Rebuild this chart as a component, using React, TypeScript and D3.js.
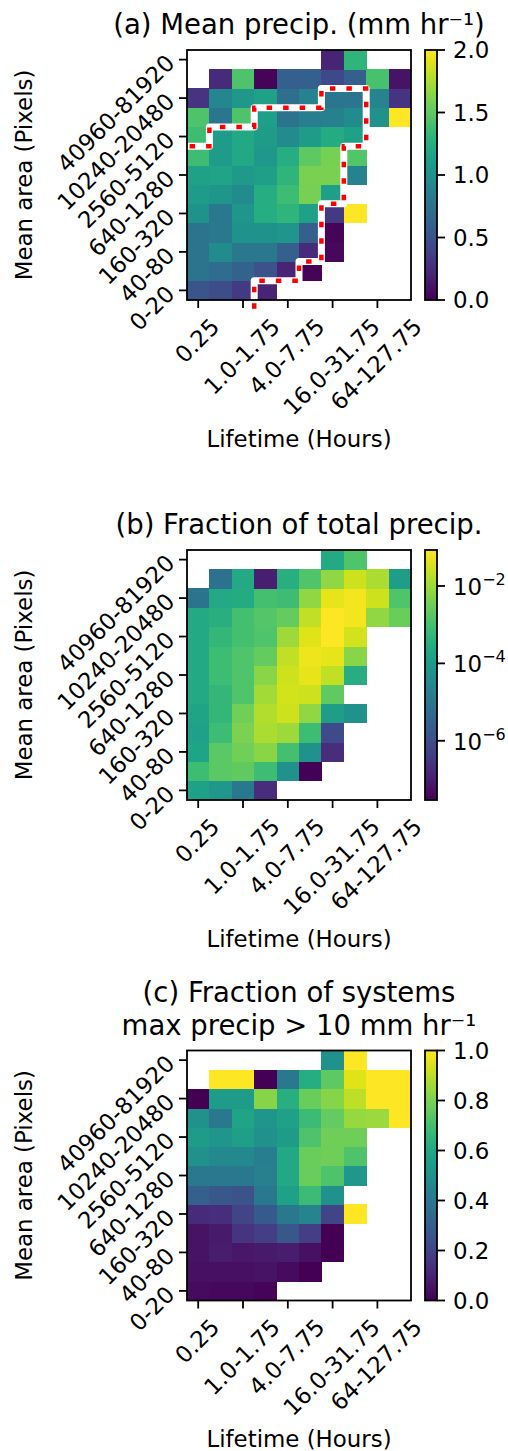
import React from "react";
import * as d3 from "d3";

// bins
const lifetimeBins = ["0.25", "0.5-0.75", "1.0-1.75", "2.0-3.75", "4.0-7.75", "8.0-15.75", "16.0-31.75", "32-63.75", "64-127.75", "128-255.75"];
const areaBins = ["0-20", "20-40", "40-80", "80-160", "160-320", "320-640", "640-1280", "1280-2560", "2560-5120", "5120-10240", "10240-20480", "20480-40960", "40960-81920"];
const xTickLabels = ["0.25", "1.0-1.75", "4.0-7.75", "16.0-31.75", "64-127.75"];
const yTickLabels = ["0-20", "40-80", "160-320", "640-1280", "2560-5120", "10240-20480", "40960-81920"];

const _ = null;

// rows: smallest area first; columns: lifetime bins
const meanPrecip = [
  [0.52, 0.46, 0.34, 0.2, _, _, _, _, _, _],
  [0.76, 0.7, 0.62, 0.5, 0.2, 0.02, _, _, _, _],
  [0.76, 0.96, 0.8, 0.8, 0.6, 0.24, 0.04, _, _, _],
  [0.76, 0.8, 1.02, 1.02, 1.04, 0.6, 0.02, _, _, _],
  [1.02, 0.8, 1.04, 1.24, 1.3, 1.14, 0.34, 2.0, _, _],
  [1.1, 1.04, 0.96, 1.24, 1.38, 1.58, 1.12, _, _, _],
  [1.14, 1.16, 1.08, 1.12, 1.3, 1.6, 1.6, 0.88, _, _],
  [1.38, 1.1, 1.2, 1.06, 1.24, 1.5, 1.58, 1.46, _, _],
  [1.38, 1.1, 1.2, 1.1, 0.96, 1.1, 1.22, 1.14, _, _],
  [1.44, 0.78, 1.44, 1.12, 0.76, 0.84, 0.86, 0.96, 1.0, 2.0],
  [0.3, 0.92, 1.06, 1.14, 0.72, 0.88, 0.78, 0.78, 0.9, 0.3],
  [_, 0.24, 1.44, 0.02, 0.6, 0.6, 0.44, 0.6, 1.42, 0.1],
  [_, _, _, _, _, _, 0.2, 1.3, _, _],
];

const fracTotal = [
  [1.5e-4, 8.3e-5, 1.2e-5, 1.9e-7, _, _, _, _, _, _],
  [7.7e-4, 1.9e-3, 2.2e-3, 7.7e-4, 5.3e-5, 3.2e-8, _, _, _, _],
  [1.7e-4, 1.9e-3, 3.4e-3, 6.1e-3, 1.0e-3, 5.3e-5, 1.9e-7, _, _, _],
  [1.3e-4, 7.7e-4, 4.6e-3, 1.3e-2, 9.5e-3, 7.7e-4, 8.3e-7, _, _, _],
  [1.7e-4, 5.7e-4, 3.4e-3, 1.5e-2, 2.7e-2, 7.1e-3, 1.1e-4, 5.3e-5, _, _],
  [2.3e-4, 5.7e-4, 1.4e-3, 1.1e-2, 3.1e-2, 2.7e-2, 2.2e-3, _, _, _],
  [2.3e-4, 7.7e-4, 1.4e-3, 6.1e-3, 2.7e-2, 4.9e-2, 2.0e-2, 3.2e-4, _, _],
  [2.3e-4, 7.7e-4, 1.4e-3, 2.5e-3, 2.0e-2, 5.7e-2, 4.9e-2, 6.1e-3, _, _],
  [2.3e-4, 5.7e-4, 1.0e-3, 1.4e-3, 9.5e-3, 4.2e-2, 8.5e-2, 3.1e-2, _, _],
  [2.3e-4, 3.6e-4, 1.0e-3, 1.6e-3, 2.5e-3, 2.0e-2, 8.5e-2, 6.6e-2, 7.1e-3, 2.9e-3],
  [9.0e-6, 2.3e-4, 2.6e-4, 1.0e-3, 8.5e-4, 7.1e-3, 4.9e-2, 6.6e-2, 2.7e-2, 1.4e-3],
  [_, 7.8e-6, 2.3e-4, 1.0e-7, 3.6e-4, 1.4e-3, 7.1e-3, 2.7e-2, 1.3e-2, 1.1e-4],
  [_, _, _, _, _, _, 2.3e-4, 1.4e-3, _, _],
];

const fracHeavy = [
  [0.03, 0.02, 0.02, 0.01, _, _, _, _, _, _],
  [0.04, 0.04, 0.04, 0.05, 0.03, 0.0, _, _, _, _],
  [0.05, 0.08, 0.06, 0.07, 0.08, 0.04, 0.0, _, _, _],
  [0.05, 0.07, 0.15, 0.18, 0.27, 0.18, 0.0, _, _, _],
  [0.12, 0.13, 0.2, 0.28, 0.4, 0.45, 0.2, 1.0, _, _],
  [0.3, 0.27, 0.25, 0.4, 0.57, 0.68, 0.5, _, _, _],
  [0.4, 0.4, 0.4, 0.43, 0.6, 0.77, 0.72, 0.53, _, _],
  [0.5, 0.47, 0.47, 0.42, 0.6, 0.77, 0.78, 0.72, _, _],
  [0.55, 0.52, 0.56, 0.5, 0.55, 0.72, 0.78, 0.78, _, _],
  [0.5, 0.4, 0.58, 0.52, 0.57, 0.68, 0.76, 0.84, 0.85, 1.0],
  [0.0, 0.55, 0.55, 0.82, 0.63, 0.77, 0.82, 0.9, 1.0, 1.0],
  [_, 1.0, 1.0, 0.0, 0.4, 0.62, 0.75, 0.95, 1.0, 1.0],
  [_, _, _, _, _, _, 0.5, 1.0, _, _],
];

// contour in bin-edge units (lifetime edge, area edge)
const contourEdge = [[3, -0.45], [3, 1], [5, 1], [5, 2], [6, 2], [6, 5], [7, 5], [7, 8], [8, 8], [8, 11], [6, 11], [6, 10], [3, 10], [3, 9], [1, 9], [1, 8], [-0.05, 8]];

const linTicksA = [0, 0.5, 1.0, 1.5, 2.0];
const logTicksB = [1e-6, 1e-4, 1e-2];
const linTicksC = [0, 0.2, 0.4, 0.6, 0.8, 1.0];

const FS = 22.9;
const TFS = 27.5;
const FONT = "DejaVu Sans";
const axL = 187, axR = 411, cbL = 425, cbR = 437, axH = 250;

const textW = (s: string) => d3.sum(Array.from(s), (ch) => (ch === "." ? 0.318 : ch === "-" ? 0.361 : 0.636)) * FS;

function Panel({ id, top, values, color, cbScale, cbTicks, cbFmt, title, contour }: any) {
  const bottom = top + axH;
  const x = d3.scaleBand().domain(lifetimeBins).range([axL, axR]);
  const y = d3.scaleBand().domain(areaBins).range([bottom, top]);
  const xe = d3.scaleLinear().domain([0, lifetimeBins.length]).range([axL, axR]);
  const ye = d3.scaleLinear().domain([0, areaBins.length]).range([bottom, top]);
  const cells: any[] = [];
  values.forEach((row: any[], r: number) =>
    row.forEach((v, c) => {
      if (v !== null) cells.push({ r, c, v });
    })
  );
  const cy = cbScale.copy().range([bottom, top]);
  const stops = d3.range(0, 1.0001, 0.05);
  const line = d3.line<number[]>().x((d) => xe(d[0])).y((d) => ye(d[1]));
  return (
    <g fontFamily={FONT}>
      <defs>
        <linearGradient id={"g" + id} x1="0" y1="1" x2="0" y2="0">
          {stops.map((t) => (
            <stop key={t} offset={t} stopColor={d3.interpolateViridis(t)} />
          ))}
        </linearGradient>
      </defs>
      {title.map((t: string, i: number) => (
        <text key={i} x={(axL + axR) / 2} y={top - 16 - (title.length - 1 - i) * 33} textAnchor="middle" fontSize={TFS}>
          {t}
        </text>
      ))}
      <g shapeRendering="crispEdges">
        {cells.map((d) => (
          <rect key={d.r + "-" + d.c} x={x(lifetimeBins[d.c])} y={y(areaBins[d.r])} width={x.bandwidth() + 0.4} height={y.bandwidth() + 0.4} fill={color(d.v)} />
        ))}
      </g>
      {contour && (
        <g fill="none">
          <path d={line(contour)!} stroke="white" strokeWidth={7} strokeLinejoin="round" />
          <path d={line(contour)!} stroke="red" strokeWidth={4.5} strokeDasharray="5.5 11" />
        </g>
      )}
      <rect x={axL} y={top} width={axR - axL} height={axH} fill="none" stroke="black" strokeWidth={1.8} />
      {xTickLabels.map((lab) => {
        const tx = x(lab)! + x.bandwidth() / 2;
        const px = tx + 0.3535 * (textW(lab) + 0.552 * FS);
        const py = bottom + 16 + 0.707 * 0.76 * FS;
        return (
          <g key={lab}>
            <line x1={tx} x2={tx} y1={bottom} y2={bottom + 8} stroke="black" strokeWidth={1.8} />
            <text transform={`translate(${px},${py}) rotate(-45)`} textAnchor="end" fontSize={FS}>
              {lab}
            </text>
          </g>
        );
      })}
      {yTickLabels.map((lab) => {
        const ty = y(lab)! + y.bandwidth() / 2;
        return (
          <g key={lab}>
            <line x1={axL - 8} x2={axL} y1={ty} y2={ty} stroke="black" strokeWidth={1.8} />
            <text transform={`translate(171,${ty}) rotate(-45)`} y={7} textAnchor="end" fontSize={FS}>
              {lab}
            </text>
          </g>
        );
      })}
      <text transform={`translate(32,${(top + bottom) / 2}) rotate(-90)`} textAnchor="middle" fontSize={FS}>
        Mean area (Pixels)
      </text>
      <text x={(axL + axR) / 2} y={bottom + 146.5} textAnchor="middle" fontSize={FS}>
        Lifetime (Hours)
      </text>
      <rect x={cbL} y={top} width={cbR - cbL} height={axH} fill={`url(#g${id})`} stroke="black" strokeWidth={1.8} />
      {cbTicks.map((t: number) => (
        <g key={t}>
          <line x1={cbR} x2={cbR + 8} y1={cy(t)} y2={cy(t)} stroke="black" strokeWidth={1.8} />
          {cbFmt(t, cy(t))}
        </g>
      ))}
    </g>
  );
}

const linFmt = (t: number, ty: number) => (
  <text x={453} y={ty + 8.3} fontSize={FS}>
    {t.toFixed(1)}
  </text>
);
const logFmt = (t: number, ty: number) => (
  <text x={453} y={ty + 9} fontSize={FS}>
    10
    <tspan fontSize={16} dy={-10}>
      {"\u2212" + Math.round(-Math.log10(t))}
    </tspan>
  </text>
);

export default function App() {
  const cA = d3.scaleSequential(d3.interpolateViridis).domain([0, 2]).clamp(true);
  const cB = d3.scaleSequentialLog(d3.interpolateViridis).domain([2.95e-8, 8.5e-2]).clamp(true);
  const cC = d3.scaleSequential(d3.interpolateViridis).domain([0, 1]).clamp(true);
  return (
    <svg width={508} height={1451} style={{ position: "absolute", left: 0, top: 0, background: "white" }}>
      <Panel id="a" top={50} values={meanPrecip} color={cA} cbScale={d3.scaleLinear().domain([0, 2])} cbTicks={linTicksA} cbFmt={linFmt} title={["(a) Mean precip. (mm hr\u207B\u00B9)"]} contour={contourEdge} />
      <Panel id="b" top={550} values={fracTotal} color={cB} cbScale={d3.scaleLog().domain([2.95e-8, 8.5e-2])} cbTicks={logTicksB} cbFmt={logFmt} title={["(b) Fraction of total precip."]} />
      <Panel id="c" top={1050.5} values={fracHeavy} color={cC} cbScale={d3.scaleLinear().domain([0, 1])} cbTicks={linTicksC} cbFmt={linFmt} title={["(c) Fraction of systems", "max precip > 10 mm hr\u207B\u00B9"]} />
    </svg>
  );
}
